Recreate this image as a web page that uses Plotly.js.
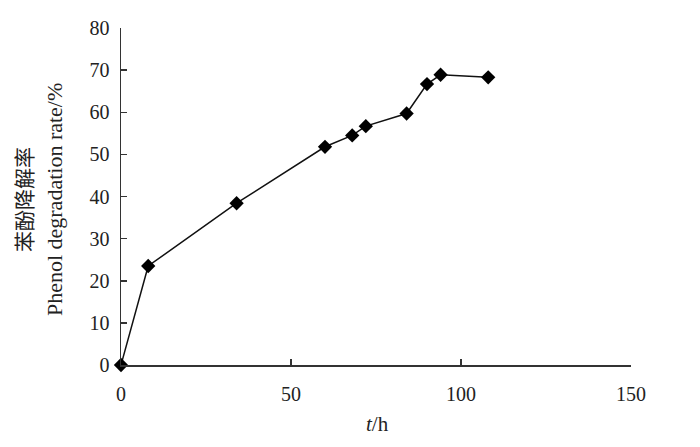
<!DOCTYPE html>
<html>
<head>
<meta charset="utf-8">
<script src="https://cdn.plot.ly/plotly-3.0.1.min.js"></script>
<style>html,body{margin:0;padding:0;background:#fff;}#chart{width:700px;height:447px;}</style>
</head>
<body>
<div id="chart"></div>
<script>
const timeH = [0, 8, 34, 60, 68, 72, 84, 90, 94, 108];
const degradationRate = [0, 23.5, 38.4, 51.8, 54.5, 56.7, 59.7, 66.7, 68.9, 68.3];
const xTicks = [0, 50, 100, 150];
const yTicks = [0, 10, 20, 30, 40, 50, 60, 70, 80];
const yTitleCn = "苯酚降解率";
const yTitleEn = "Phenol degradation rate/%";
const xTitle = "<i>t</i>/h";

const serif = '"Liberation Serif", "Times New Roman", serif';
const tickFont = {family: serif, size: 20, color: '#222'};

Plotly.newPlot('chart', [{
  x: timeH,
  y: degradationRate,
  type: 'scatter',
  mode: 'lines+markers',
  line: {color: '#111', width: 1.5},
  marker: {symbol: 'diamond', size: 11, color: '#000'},
  cliponaxis: false,
  showlegend: false
}], {
  width: 700, height: 447,
  margin: {l: 121, r: 69, t: 28, b: 82},
  paper_bgcolor: '#fff', plot_bgcolor: '#fff',
  font: tickFont,
  xaxis: {
    range: [0, 150], tickvals: xTicks, ticktext: xTicks.map(String),
    showgrid: false, zeroline: false, showline: true, linecolor: '#333', linewidth: 1.5,
    ticks: 'inside', ticklen: 6, tickwidth: 1.5, tickcolor: '#333',
    tickfont: tickFont, ticklabelstandoff: 10
  },
  yaxis: {
    range: [0, 80], tickvals: yTicks, ticktext: yTicks.map(String),
    showgrid: false, zeroline: false, showline: true, linecolor: '#333', linewidth: 1.5,
    ticks: 'inside', ticklen: 6, tickwidth: 1.5, tickcolor: '#333',
    tickfont: tickFont, ticklabelstandoff: 6
  },
  annotations: [{
    text: yTitleCn,
    xref: 'paper', yref: 'paper', x: -0.192, y: 0.49,
    xanchor: 'center', yanchor: 'middle', textangle: -90, showarrow: false,
    font: {family: '"Noto Sans CJK SC", sans-serif', size: 21, color: '#222'}
  }, {
    text: yTitleEn,
    xref: 'paper', yref: 'paper', x: -0.129, y: 0.49,
    xanchor: 'center', yanchor: 'middle', textangle: -90, showarrow: false,
    font: {family: serif, size: 22, color: '#222'}
  }, {
    text: xTitle,
    xref: 'paper', yref: 'paper', x: 0.502, y: -0.175,
    xanchor: 'center', yanchor: 'middle', showarrow: false,
    font: {family: serif, size: 21, color: '#222'}
  }]
}, {displayModeBar: false, staticPlot: true});
</script>
</body>
</html>
